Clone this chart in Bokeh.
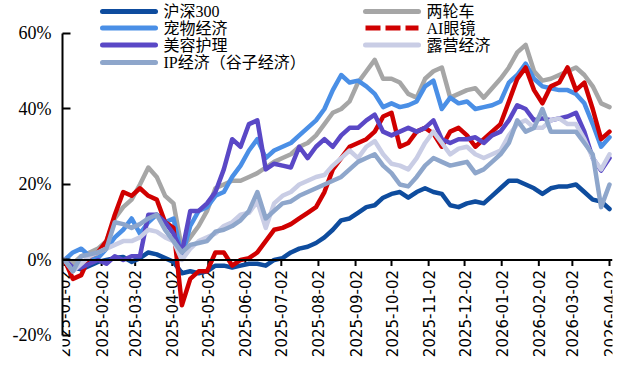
import math
import pandas as pd
from bokeh.plotting import figure
from bokeh.models import (Span, FixedTicker, PrintfTickFormatter, Range1d)
from bokeh.embed import file_html
from bokeh.resources import INLINE
from bokeh.core.properties import value

# weekly sampling dates
dates = pd.date_range("2025-01-02", periods=66, freq="7D")

tick_labels = ["2025-01-02", "2025-02-02", "2025-03-02", "2025-04-02", "2025-05-02",
               "2025-06-02", "2025-07-02", "2025-08-02", "2025-09-02", "2025-10-02",
               "2025-11-02", "2025-12-02", "2026-01-02", "2026-02-02", "2026-03-02",
               "2026-04-02"]

y_ticks = [-20, 0, 20, 40, 60]

hs300 = [0, -2, -2.5, -1.5, -0.5, 0, 0.5, 0.8, -0.5, 0.5,
         2, 1.5, 0.5, -0.5, -3.5, -3, -3.5, -3, -1.5, -1.5,
         -2, -1.5, -1, -1, -1.5, 0, 0.5, 2, 3, 3.5,
         4.5, 6, 8, 10.5, 11, 12.5, 14, 14.5, 16.5, 17.5,
         18, 16.5, 18, 19, 18, 17.5, 14.5, 14, 15, 15.5,
         15, 17, 19, 21, 21, 20, 19, 17.5, 19, 19.5,
         19.5, 20, 18, 16, 15.5, 13.5]

two_wheel = [0, -1, 1, 2, 3, 5, 11, 14, 16, 20,
             24.5, 22, 17, 15, 3, 6, 9, 13, 19, 20,
             21, 21, 22, 23, 24.5, 26, 27, 28, 30, 31,
             33, 36, 39, 40, 42, 47, 50, 53, 48, 48,
             47, 44, 43, 48, 50, 51, 43, 44, 45, 45.5,
             43, 45.5, 48, 51, 55, 57, 50, 47.5, 48, 49,
             50, 51, 49, 46, 41.5, 40.5]

pet = [0, 2, 3, 1, 0.5, 3, 6, 8, 11, 7,
       10, 12, 10, 11, 1, 9, 13, 14, 17, 18,
       22, 25, 29, 32, 27, 29, 30, 31, 33, 35,
       37, 40, 45, 49, 47, 47.5, 46, 44, 40.5, 41.5,
       40.5, 41, 42, 46, 47.5, 40, 43, 41.5, 42, 40,
       40.5, 41, 42, 47, 49, 52, 48, 46, 45.5, 45,
       45, 44, 41.5, 36, 30, 32.5]

ai_glasses = [0, -5, -4, 1, 2, 5, 12, 18, 17, 19,
              17, 16, 10, 8.5, -12, -5, -3, -3, 2, 2,
              -1.5, 0, 0.5, 2, 5, 8, 8.5, 9.5, 11, 12.5,
              14, 18, 24, 27, 30, 31, 32, 34, 38, 39,
              30, 31, 34, 35, 33.5, 30, 34, 35, 33, 30,
              32, 34, 36, 42, 48, 51, 45, 41.5, 46, 47,
              51, 45, 47, 40, 32, 34]

beauty = [0, -2, -2, -1, 0, -1, 1, 0, 1, 1,
          12, 12, 10, 7, 2, 13, 13, 15, 18, 24,
          32, 30, 36, 37, 24, 25.5, 25, 24.5, 30, 27,
          30, 32, 30, 33, 35, 35, 37, 38.5, 34, 33,
          34, 35, 34, 35, 37, 32, 31, 32, 32, 32.5,
          31, 33, 34, 37, 41, 40, 37, 37.5, 37, 37.5,
          38, 39, 34, 27, 23.7, 27]

camping = [0, -3, -1, 1, 2, 3, 4, 5, 5, 6,
           8, 7.5, 6, 5, 0, 3, 5, 6, 7, 9,
           10, 12, 12.5, 15.5, 8.5, 15, 17, 18, 20, 21,
           22, 22.5, 25, 27, 29, 27, 30, 31.5, 28, 25.5,
           25, 24, 27, 31, 34, 31, 28, 29.5, 30, 28,
           27, 28, 29, 33, 36, 37, 35, 35, 37, 37.5,
           36, 36, 32, 27, 24, 28]

ip_econ = [0, -3, 1, 1.5, 2, 3, 10, 9.5, 8.5, 9.5,
           11, 12, 8, 5, 2, 4, 4.5, 5, 7.5, 8,
           9, 10.5, 13, 18, 11, 13, 15, 15.5, 17, 18,
           19, 20, 21, 22, 24, 26, 27, 28, 25, 23,
           20, 19.5, 22, 25, 27, 26, 25, 25.5, 26, 23,
           24, 26, 28, 31, 37, 34, 35, 40, 34, 34,
           34, 34, 31, 28, 14, 20]

names = ["沪深300", "两轮车", "宠物经济", "AI眼镜", "美容护理", "露营经济", "IP经济（谷子经济）"]
series = [hs300, two_wheel, pet, ai_glasses, beauty, camping, ip_econ]
colors = ["#0E4C9E", "#A6A6A6", "#4A8FE6", "#D00000", "#5A48C6", "#C9CDE5", "#8EA6CB"]
dashes = ["solid", "solid", "solid", "15 5", "solid", "solid", "solid"]

# legend layout: (column, row) of each series
legend_slots = [(0, 0), (1, 0), (0, 1), (1, 1), (0, 2), (1, 2), (0, 3)]

tick_dates = pd.to_datetime(tick_labels)

W, H = 633, 373
FL, FR = 62, 612            # frame left / right in pixels
Y0, Y1 = -30.07, 68.74
X0 = pd.Timestamp("2025-01-02") - pd.Timedelta(hours=40)
X1 = pd.Timestamp("2026-04-04 12:00")

p = figure(width=W, height=H, x_axis_type="datetime", x_axis_location=None,
           output_backend="svg", toolbar_location=None,
           x_range=Range1d(X0, X1), y_range=Range1d(Y0, Y1),
           min_border_left=FL, min_border_right=W - FR, min_border_top=0, min_border_bottom=0)
p.grid.visible = False
p.outline_line_color = None
p.background_fill_color = "white"

ax = p.yaxis[0]
ax.ticker = FixedTicker(ticks=y_ticks)
ax.formatter = PrintfTickFormatter(format="%d%%")
ax.bounds = (-20, 60)
ax.axis_line_width = 2
ax.axis_line_color = "black"
ax.major_tick_in = 8
ax.major_tick_out = 0
ax.major_tick_line_width = 2
ax.major_tick_line_color = "black"
ax.minor_tick_line_color = None
ax.major_label_standoff = 11
ax.major_label_text_font = "Liberation Serif"
ax.major_label_text_font_size = "18px"
ax.major_label_text_color = "black"

# x axis drawn at 0%
p.add_layout(Span(location=0, dimension="width", line_color="black", line_width=2))
p.segment(x0=tick_dates, x1=tick_dates, y0=[0] * len(tick_dates), y1=[-1.6] * len(tick_dates),
          line_color="black", line_width=2)
p.text(x=tick_dates, y=[0] * len(tick_dates), text=tick_labels, angle=math.pi / 2,
       text_align="right", text_baseline="middle", y_offset=10,
       text_font=value("DejaVu Sans"), text_font_size="15px", text_color="black")

for nm, vals, col in zip(names, series, colors):
    p.line(dates, vals, line_color=col, line_width=4.5, line_join="round", line_cap="round")

# manual legend placed in pixel space (converted to data space)
def px_to_x(px):
    return X0 + (X1 - X0) * ((px - FL) / (FR - FL))

def px_to_y(py):
    return Y1 - (Y1 - Y0) * (py / H)

col_x = [100, 363]          # start of legend line sample (px)
row_y = [11, 27.5, 44.5, 62]  # row centres (px)
sample_len = 57
font = value("Liberation Serif, Noto Sans CJK SC")

for nm, col, dash, (c, r) in zip(names, colors, dashes, legend_slots):
    y = px_to_y(row_y[r])
    xa = px_to_x(col_x[c] + 2)
    xb = px_to_x(col_x[c] + sample_len - 2)
    p.segment(x0=[xa], x1=[xb], y0=[y], y1=[y], line_color=col, line_width=5,
              line_dash=dash, line_cap="butt" if dash != "solid" else "round")
    p.text(x=[px_to_x(col_x[c] + sample_len + 6)], y=[y], text=[nm],
           text_align="left", text_baseline="middle", text_font=font,
           text_font_size="16px", text_color="black")

open("out.html", "w").write(file_html(p, INLINE))
